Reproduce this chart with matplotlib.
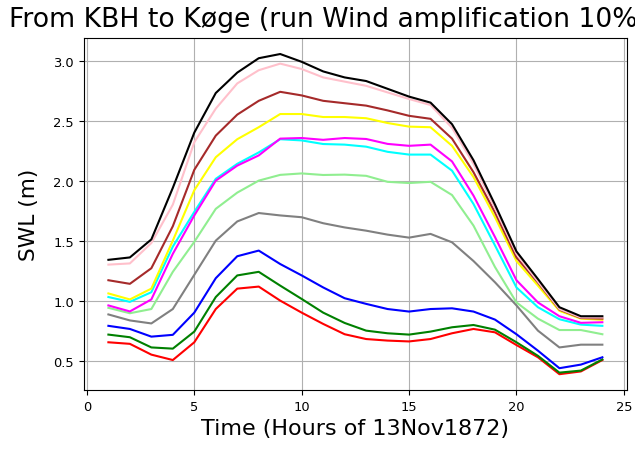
import numpy as np
import matplotlib
matplotlib.use('Agg')
import matplotlib.pyplot as plt

# Hourly water level (m) between KBH and Køge, storm of 13 Nov 1872
horas = list(range(1, 25))

swl_negro = [1.34, 1.36, 1.51, 1.94, 2.40, 2.73, 2.90, 3.02, 3.055, 2.99, 2.91, 2.86,
             2.83, 2.765, 2.70, 2.65, 2.47, 2.17, 1.80, 1.41, 1.18, 0.945, 0.87, 0.87]
swl_rosa = [1.30, 1.31, 1.48, 1.80, 2.32, 2.60, 2.81, 2.92, 2.975, 2.93, 2.86, 2.825,
            2.79, 2.735, 2.68, 2.63, 2.44, 2.14, 1.77, 1.39, 1.16, 0.93, 0.86, 0.86]
swl_marron = [1.17, 1.14, 1.27, 1.62, 2.09, 2.375, 2.55, 2.665, 2.74, 2.71, 2.665, 2.645,
              2.625, 2.585, 2.54, 2.515, 2.35, 2.07, 1.735, 1.36, 1.15, 0.925, 0.855, 0.85]
swl_amarillo = [1.06, 1.01, 1.10, 1.50, 1.92, 2.195, 2.345, 2.445, 2.555, 2.555, 2.53, 2.53,
                2.52, 2.48, 2.45, 2.445, 2.29, 2.03, 1.695, 1.33, 1.125, 0.915, 0.85, 0.84]
swl_magenta = [0.96, 0.91, 1.01, 1.39, 1.71, 2.0, 2.125, 2.21, 2.35, 2.355, 2.34, 2.355,
               2.347, 2.306, 2.29, 2.30, 2.16, 1.875, 1.53, 1.17, 0.985, 0.87, 0.815, 0.82]
swl_cian = [1.03, 0.99, 1.07, 1.45, 1.74, 2.015, 2.14, 2.235, 2.345, 2.335, 2.305, 2.30,
            2.283, 2.24, 2.217, 2.217, 2.083, 1.805, 1.46, 1.11, 0.945, 0.845, 0.80, 0.79]
swl_verdeclaro = [0.94, 0.895, 0.93, 1.24, 1.49, 1.765, 1.90, 2.0, 2.048, 2.06, 2.047, 2.05,
                  2.04, 1.99, 1.98, 1.99, 1.88, 1.625, 1.28, 0.985, 0.85, 0.755, 0.755, 0.72]
swl_gris = [0.885, 0.835, 0.81, 0.93, 1.215, 1.50, 1.66, 1.73, 1.71, 1.695, 1.645, 1.61,
            1.583, 1.55, 1.525, 1.556, 1.486, 1.33, 1.153, 0.96, 0.75, 0.61, 0.633, 0.633]
swl_azul = [0.79, 0.764, 0.70, 0.715, 0.90, 1.187, 1.37, 1.417, 1.305, 1.21, 1.11, 1.02,
            0.973, 0.93, 0.909, 0.93, 0.936, 0.909, 0.842, 0.72, 0.583, 0.437, 0.467, 0.528]
swl_verde = [0.717, 0.695, 0.61, 0.60, 0.742, 1.03, 1.21, 1.24, 1.125, 1.014, 0.90, 0.814,
             0.75, 0.728, 0.717, 0.742, 0.778, 0.797, 0.758, 0.653, 0.54, 0.40, 0.417, 0.51]
swl_rojo = [0.653, 0.64, 0.55, 0.505, 0.653, 0.93, 1.10, 1.117, 1.0, 0.90, 0.806, 0.72,
            0.68, 0.667, 0.66, 0.68, 0.728, 0.764, 0.736, 0.63, 0.528, 0.387, 0.41, 0.505]

series = [(swl_rojo, 'red'), (swl_verde, 'green'), (swl_azul, 'blue'), (swl_gris, 'gray'),
          (swl_verdeclaro, 'lightgreen'), (swl_cian, 'cyan'), (swl_magenta, 'magenta'),
          (swl_amarillo, 'yellow'), (swl_marron, 'brown'), (swl_rosa, 'pink'), (swl_negro, 'black')]

fig = plt.figure(figsize=(6.35, 4.52), dpi=100)
ax = fig.add_axes([0.1318, 0.1345, 0.8557, 0.7792])

for valores, color in series:
    ax.plot(horas, valores, color=color, linewidth=1.5)

ax.set_xlabel('Time (Hours of 13Nov1872)', fontsize=16)
ax.set_ylabel('SWL (m)', fontsize=15.7, labelpad=10)
ax.tick_params(labelsize=9.4)
ax.grid(True)

fig.text(9 / 635, 1 - 27 / 452, 'From KBH to Køge (run Wind amplification 10%)',
         fontsize=19.2, ha='left', va='baseline')

fig.savefig('out.png', dpi=100)
plt.close()
